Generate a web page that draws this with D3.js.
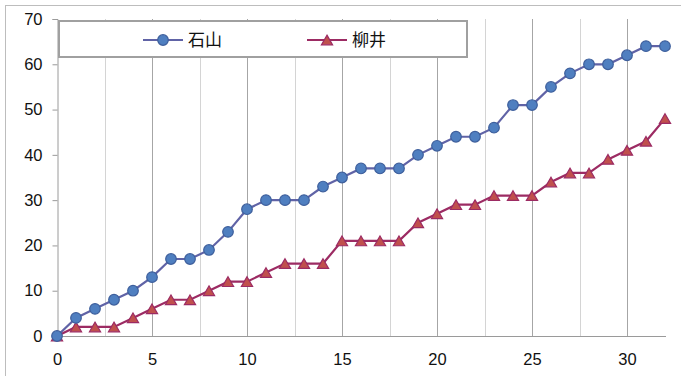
<!DOCTYPE html>
<html>
<head>
<meta charset="utf-8">
<script src="https://cdn.jsdelivr.net/npm/d3@7"></script>
<style>
  html, body { margin: 0; padding: 0; background: #fff; }
  svg { display: block; }
</style>
</head>
<body>
<svg id="chart" width="681" height="376"></svg>
<script>
// Cumulative counts per round
const rounds = d3.range(0, 33);
const ishiyama = [0, 4, 6, 8, 10, 13, 17, 17, 19, 23, 28, 30, 30, 30, 33, 35, 37, 37, 37, 40, 42, 44, 44, 46, 51, 51, 55, 58, 60, 60, 62, 64, 64];
const yanai    = [0, 2, 2, 2, 4, 6, 8, 8, 10, 12, 12, 14, 16, 16, 16, 21, 21, 21, 21, 25, 27, 29, 29, 31, 31, 31, 34, 36, 36, 39, 41, 43, 48];
const seriesNames = ["石山", "柳井"];
const xTicks = [0, 5, 10, 15, 20, 25, 30];
const xMinorTicks = [2.5, 7.5, 12.5, 17.5, 22.5, 27.5];
const yTicks = [0, 10, 20, 30, 40, 50, 60, 70];

const svg = d3.select("#chart");
const numFont = "'Liberation Sans', Arial, sans-serif";
const cjkFont = "'Noto Sans CJK JP', 'Noto Sans', sans-serif";

// outer chart frame
svg.append("rect")
  .attr("x", 5.5).attr("y", 5.5)
  .attr("width", 690).attr("height", 390)
  .attr("fill", "#fff").attr("stroke", "#bdbdbd").attr("stroke-width", 1);

const x = d3.scaleLinear().domain([0, 32]).range([57, 665]);
const y = d3.scaleLinear().domain([0, 70]).range([336, 19]);
const plotRight = 666;

// vertical gridlines
svg.append("g").selectAll("line.minor").data(xMinorTicks).join("line")
  .attr("x1", d => Math.round(x(d)) + 0.5).attr("x2", d => Math.round(x(d)) + 0.5)
  .attr("y1", y(70)).attr("y2", y(0))
  .attr("stroke", "#d4d4d4").attr("stroke-width", 1);
svg.append("g").selectAll("line.major").data(xTicks.filter(d => d > 0)).join("line")
  .attr("x1", d => Math.round(x(d)) + 0.5).attr("x2", d => Math.round(x(d)) + 0.5)
  .attr("y1", y(70)).attr("y2", y(0))
  .attr("stroke", "#a6a6a6").attr("stroke-width", 1);

// y axis
const yAxis = svg.append("g")
  .attr("transform", `translate(${x(0) + 0.5},0)`)
  .call(d3.axisLeft(y).tickValues(yTicks).tickSize(5).tickPadding(10));
yAxis.select(".domain").attr("stroke", "#9a9a9a");
yAxis.selectAll(".tick line").attr("stroke", "#9a9a9a");
yAxis.selectAll(".tick text")
  .attr("font-family", numFont).attr("font-size", 16.5).attr("fill", "#111");

// x axis
const xAxis = svg.append("g")
  .attr("transform", `translate(0,${y(0) + 0.5})`)
  .call(d3.axisBottom(x).tickValues(xTicks).tickSize(0).tickPadding(17));
xAxis.select(".domain").attr("d", `M${x(0)},0H${plotRight}`).attr("stroke", "#9a9a9a");
xAxis.selectAll(".tick text")
  .attr("font-family", numFont).attr("font-size", 16.5).attr("fill", "#111");

// series
const line = d3.line().x((d, i) => x(rounds[i])).y(d => y(d));
// triangle marker, shifted so its bounding box is centred on the point
const triSize = 54;
const tri = d3.symbol().type(d3.symbolTriangle).size(triSize);
const triShift = Math.sqrt(triSize / (Math.sqrt(3) * 3)) / 2;

svg.append("path").datum(yanai).attr("d", line)
  .attr("fill", "none").attr("stroke", "#9c2b63").attr("stroke-width", 2.2);
svg.append("path").datum(ishiyama).attr("d", line)
  .attr("fill", "none").attr("stroke", "#6063a6").attr("stroke-width", 2.2);

svg.append("g").selectAll("path").data(yanai).join("path")
  .attr("d", tri)
  .attr("transform", (d, i) => `translate(${x(rounds[i])},${y(d) + triShift})`)
  .attr("fill", "#c0504d").attr("stroke", "#9c2b63").attr("stroke-width", 1.2);

svg.append("g").selectAll("circle").data(ishiyama).join("circle")
  .attr("cx", (d, i) => x(rounds[i])).attr("cy", d => y(d)).attr("r", 5.3)
  .attr("fill", "#4f7fc0").attr("stroke", "#3e5f9c").attr("stroke-width", 1.2);

// legend
const legend = svg.append("g");
legend.append("rect")
  .attr("x", 59).attr("y", 21).attr("width", 408).attr("height", 36)
  .attr("fill", "#fff").attr("stroke", "#a0a0a0").attr("stroke-width", 2);

const ly = 40;
legend.append("line").attr("x1", 143).attr("x2", 183).attr("y1", ly).attr("y2", ly)
  .attr("stroke", "#6063a6").attr("stroke-width", 2.2);
legend.append("circle").attr("cx", 163).attr("cy", ly).attr("r", 5.3)
  .attr("fill", "#4f7fc0").attr("stroke", "#3e5f9c").attr("stroke-width", 1.2);
legend.append("text").attr("x", 188).attr("y", ly).attr("dy", "0.36em")
  .attr("font-family", cjkFont).attr("font-size", 17).attr("fill", "#111")
  .text(seriesNames[0]);

legend.append("line").attr("x1", 307).attr("x2", 347).attr("y1", ly).attr("y2", ly)
  .attr("stroke", "#9c2b63").attr("stroke-width", 2.2);
legend.append("path").attr("d", tri)
  .attr("transform", `translate(327,${ly + triShift})`)
  .attr("fill", "#c0504d").attr("stroke", "#9c2b63").attr("stroke-width", 1.2);
legend.append("text").attr("x", 352).attr("y", ly).attr("dy", "0.36em")
  .attr("font-family", cjkFont).attr("font-size", 17).attr("fill", "#111")
  .text(seriesNames[1]);
</script>
</body>
</html>
